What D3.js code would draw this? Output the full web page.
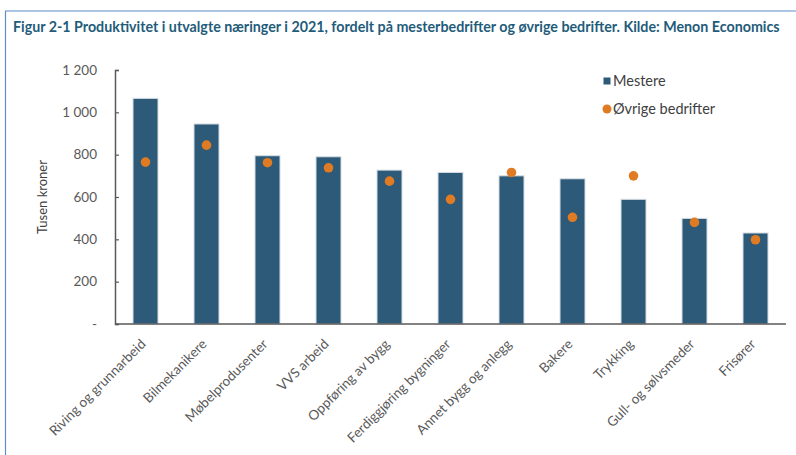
<!DOCTYPE html>
<html lang="no">
<head>
  <meta charset="utf-8">
  <title>Figur 2-1 Produktivitet</title>
  <script src="https://d3js.org/d3.v7.min.js"></script>
  <style>
  body { margin: 0; background: #fff; }
  svg { font-family: Lato, "Open Sans", sans-serif; }
  </style>
</head>
<body>
  <script>
  var categories = ["Riving og grunnarbeid", "Bilmekanikere", "Møbelprodusenter", "VVS arbeid",
    "Oppføring av bygg", "Ferdiggjøring bygninger", "Annet bygg og anlegg", "Bakere",
    "Trykking", "Gull- og sølvsmeder", "Frisører"];
  var mestere = [1066, 945, 795, 790, 727, 716, 700, 686, 589, 499, 430];
  var ovrige = [765, 845, 762, 738, 675, 589, 716, 504, 700, 480, 398];
  var yTicks = [0, 200, 400, 600, 800, 1000, 1200];
  var yTickLabels = ["-", "200", "400", "600", "800", "1 000", "1 200"];

  var width = 796, height = 455;
  var margin = {top: 70, right: 10, bottom: 131, left: 115};

  var svg = d3.select("body").append("svg")
    .attr("width", width)
    .attr("height", height);

  // frame
  svg.append("line").attr("x1", 5).attr("y1", 11).attr("x2", width).attr("y2", 11)
    .attr("stroke", "#5b8fc7").attr("stroke-width", 1.2);
  svg.append("line").attr("x1", 5.5).attr("y1", 11).attr("x2", 5.5).attr("y2", height)
    .attr("stroke", "#5b8fc7").attr("stroke-width", 1.2);

  var title = svg.append("text")
    .attr("x", 13)
    .attr("y", 32)
    .attr("fill", "#1f5c7a")
    .attr("font-weight", "bold")
    .attr("font-size", "13px")
    .text("Figur 2-1 Produktivitet i utvalgte næringer i 2021, fordelt på mesterbedrifter og øvrige bedrifter. Kilde: Menon Economics");
  var tw = title.node().getComputedTextLength();
  title.attr("font-size", (13 * 767 / tw) + "px");

  var x = d3.scaleBand()
    .domain(categories)
    .range([margin.left, width - margin.right])
    .paddingInner(0.6)
    .paddingOuter(0.3);

  var y = d3.scaleLinear()
    .domain([0, 1200])
    .range([height - margin.bottom, margin.top]);

  var x0 = x.range()[0];
  var bw = 25;

  // bars
  svg.append("g").selectAll("rect")
    .data(categories)
    .enter().append("rect")
    .attr("x", function(d) { return x(d) + x.bandwidth() / 2 - bw / 2; })
    .attr("y", function(d, i) { return y(mestere[i]); })
    .attr("width", bw)
    .attr("height", function(d, i) { return y(0) - y(mestere[i]); })
    .attr("fill", "#2c5a78")
    .attr("stroke", "#d6dde4")
    .attr("stroke-width", 1);

  // y axis
  var yAxis = d3.axisRight(y)
    .tickValues(yTicks)
    .tickSize(4)
    .tickFormat(function(d, i) { return ""; });
  var gy = svg.append("g")
    .attr("transform", "translate(" + x0 + ",0)")
    .call(yAxis);
  gy.select(".domain").attr("stroke", "#595959").attr("stroke-width", 1.5);
  gy.selectAll(".tick line").attr("stroke", "#595959").attr("stroke-width", 1.2);

  svg.append("g").selectAll("text")
    .data(yTicks)
    .enter().append("text")
    .attr("x", 97)
    .attr("y", function(d) { return y(d); })
    .attr("dy", "0.35em")
    .attr("text-anchor", "end")
    .attr("fill", "#595959")
    .attr("font-size", "13.5px")
    .text(function(d, i) { return yTickLabels[i]; });

  // x axis
  svg.append("line")
    .attr("x1", x0).attr("x2", x.range()[1])
    .attr("y1", y(0)).attr("y2", y(0))
    .attr("stroke", "#595959").attr("stroke-width", 1.5);

  svg.append("g").selectAll("text")
    .data(categories)
    .enter().append("text")
    .attr("transform", function(d) {
      return "translate(" + (x(d) + x.bandwidth() / 2 + 1) + "," + (y(0) + 21) + ") rotate(-45)";
    })
    .attr("text-anchor", "end")
    .attr("fill", "#595959")
    .attr("font-size", "13.5px")
    .text(function(d) { return d; });

  // dots
  svg.append("g").selectAll("circle")
    .data(categories)
    .enter().append("circle")
    .attr("cx", function(d) { return x(d) + x.bandwidth() / 2; })
    .attr("cy", function(d, i) { return y(ovrige[i]); })
    .attr("r", 4.8)
    .attr("fill", "#e07b24");

  // y title
  svg.append("text")
    .attr("transform", "translate(47," + ((y(0) + y(1200)) / 2) + ") rotate(-90)")
    .attr("text-anchor", "middle")
    .attr("fill", "#404040")
    .attr("font-size", "13px")
    .text("Tusen kroner");

  // legend
  var lg = svg.append("g").attr("transform", "translate(607,0)");
  lg.append("rect").attr("x", -3.5).attr("y", 77.5).attr("width", 7).attr("height", 7).attr("fill", "#2c5a78");
  lg.append("text").attr("x", 6).attr("y", 81).attr("dy", "0.35em")
    .attr("fill", "#404040").attr("font-size", "14.5px").text("Mestere");
  lg.append("circle").attr("cx", 0).attr("cy", 109).attr("r", 4.5).attr("fill", "#e07b24");
  lg.append("text").attr("x", 6).attr("y", 109).attr("dy", "0.35em")
    .attr("fill", "#404040").attr("font-size", "14.5px").text("Øvrige bedrifter");
  </script>
</body>
</html>
